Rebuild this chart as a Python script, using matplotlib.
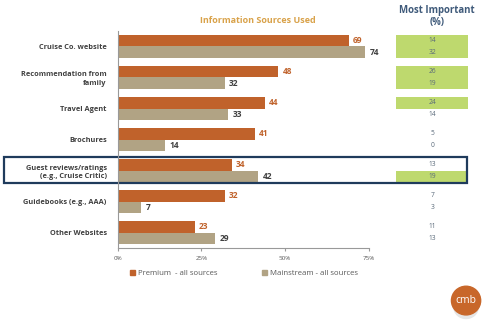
import matplotlib.pyplot as plt
from matplotlib.patches import Rectangle, Ellipse

plt.rcParams['font.family'] = ['Open Sans', 'DejaVu Sans']

categories = ["Cruise Co. website", "Recommendation from\nfamily", "Travel Agent",
              "Brochures", "Guest reviews/ratings\n(e.g., Cruise Critic)",
              "Guidebooks (e.g., AAA)", "Other Websites"]
premium = [69, 48, 44, 41, 34, 32, 23]
mainstream = [74, 32, 33, 14, 42, 7, 29]
imp_premium = [14, 26, 24, 5, 13, 7, 11]
imp_mainstream = [32, 19, 14, 0, 19, 3, 13]
green_premium = [True, True, True, False, False, False, False]
green_mainstream = [True, True, False, False, True, False, False]
xticks = [0, 25, 50, 75]

ORANGE = "#C0622B"
TAN = "#B1A384"
GREEN = "#BED96E"
GRAY = "#595959"
NAVY = "#1F3B5C"

fig = plt.figure(figsize=(4.87, 3.26), dpi=100)
ax = fig.add_axes([0.242, 0.239, 0.515, 0.666])

h = 0.37
ys = list(range(len(categories)))
ax.barh([y - h / 2 for y in ys], premium, height=h, color=ORANGE)
ax.barh([y + h / 2 for y in ys], mainstream, height=h, color=TAN)

for y, p, m in zip(ys, premium, mainstream):
    ax.text(p + 1.3, y - h / 2, str(p), va="center", ha="left", fontsize=6,
            color=ORANGE, fontweight="bold")
    ax.text(m + 1.3, y + h / 2, str(m), va="center", ha="left", fontsize=6,
            color="#404040", fontweight="bold")

ax.set_xlim(0, 75)
ax.set_ylim(len(categories) - 0.5, -0.5)
ax.set_xticks(xticks)
ax.set_xticklabels([f"{t}%" for t in xticks], fontsize=4.5, color=GRAY)
ax.tick_params(axis="x", length=2, color="#999999", pad=4)
ax.set_yticks(ys)
ax.set_yticklabels(categories, fontsize=5.3, color="#404040", fontweight="bold",
                   linespacing=1.35)
ax.tick_params(axis="y", length=0, pad=8)
for s in ["top", "right"]:
    ax.spines[s].set_visible(False)
ax.spines["left"].set_color("#999999")
ax.spines["bottom"].set_color("#999999")

# Most important column
tr = ax.get_yaxis_transform()
bx0, bx1 = 1.108, 1.398
for y, vp, vm, gp, gm in zip(ys, imp_premium, imp_mainstream, green_premium, green_mainstream):
    for yy, v, g in [(y - h / 2, vp, gp), (y + h / 2, vm, gm)]:
        if g:
            ax.add_patch(Rectangle((bx0, yy - h / 2), bx1 - bx0, h, transform=tr,
                                   color=GREEN, clip_on=False, lw=0))
        ax.text((bx0 + bx1) / 2, yy, str(v), transform=tr, ha="center", va="center",
                fontsize=4.8, color="#5A6A7A", clip_on=False)

# highlight box
ax.add_patch(Rectangle((-0.454, 3.57), 1.394 + 0.454, 0.84, transform=tr, fill=False,
                       edgecolor=NAVY, lw=1.6, clip_on=False))

fig.text(0.53, 0.937, "Information Sources Used", ha="center", va="center",
         fontsize=6.5, color="#D9A24A", fontweight="bold")
fig.text(0.897, 0.95, "Most Important\n(%)", ha="center", va="center",
         fontsize=6.9, color="#3F5A7A", fontweight="bold", linespacing=1.15)

leg = fig.legend(handles=[Rectangle((0, 0), 1, 1, color=ORANGE),
                          Rectangle((0, 0), 1, 1, color=TAN)],
                 labels=["Premium  - all sources", "Mainstream - all sources"],
                 loc="center", bbox_to_anchor=(0.501, 0.16), ncol=2, frameon=False,
                 fontsize=5.6, handlelength=0.6, handleheight=0.6, handletextpad=0.4,
                 columnspacing=5.8)
for t in leg.get_texts():
    t.set_color(GRAY)

# logo
fig.patches.append(Ellipse((0.957, 0.058), 0.05, 0.07, transform=fig.transFigure,
                           color="#E6E6E6", zorder=1))
fig.patches.append(Ellipse((0.957, 0.078), 0.06, 0.088, transform=fig.transFigure,
                           color="#C8672A", zorder=2))
fig.text(0.957, 0.078, "cmb", ha="center", va="center", fontsize=7.5, color="white",
         zorder=3)

fig.savefig("out.png", dpi=100)
